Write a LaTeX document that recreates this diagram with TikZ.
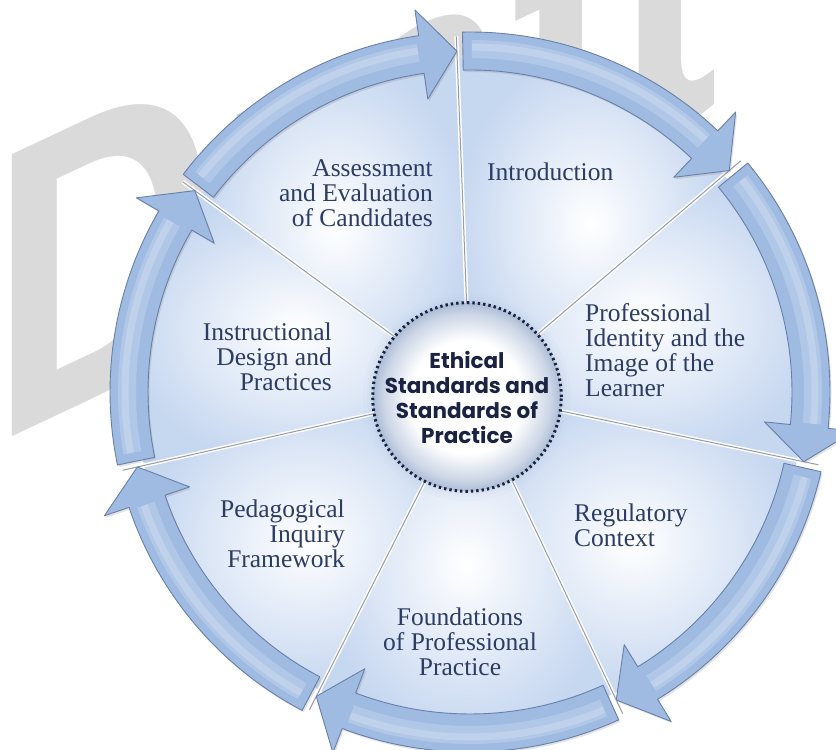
\documentclass[tikz,border=0pt]{standalone}
\usepackage{fontspec}
\setmainfont{Liberation Serif}
\newfontfamily\cfont{Poppins}
\newfontfamily\wmfont{Liberation Sans}
\usetikzlibrary{shadows}
\definecolor{arrowfill}{RGB}{160,187,226}
\definecolor{arrowedge}{RGB}{104,128,170}
\definecolor{secout}{RGB}{198,215,240}
\definecolor{labc}{RGB}{44,60,98}
\definecolor{cenc}{RGB}{26,36,66}
\definecolor{wmgray}{RGB}{218,218,218}
\definecolor{cedge}{RGB}{172,188,214}
\definecolor{divg}{RGB}{150,155,168}
\pgfdeclareradialshading{censhade}{\pgfpoint{0bp}{0bp}}{color(0bp)=(white); color(15bp)=(white); color(22bp)=(cedge!60!white); color(25bp)=(cedge); color(50bp)=(cedge)}
\begin{document}
\begin{tikzpicture}[x=1pt,y=1pt,
  lab/.style={font=\fontsize{25.5}{25}\selectfont, text=labc, inner sep=0pt},
  ringarrow/.style={fill=arrowfill, draw=arrowedge, line width=0.9pt, line join=round,
     drop shadow={opacity=0.22, shadow xshift=1.5pt, shadow yshift=-2pt}},
  sector/.style={inner color=white, outer color=secout},
  divline/.style={draw=white, line width=4pt},
  divgray/.style={draw=divg, line width=1pt},
  glintwide/.style={draw=white, opacity=0.18, line width=18pt},
  glintthin/.style={draw=white, opacity=0.2, line width=7pt}]
\useasboundingbox (0,0) rectangle (836,750);
\clip (0,0) rectangle (836,750);
\fill[white] (0,0) rectangle (836,750);

% watermark
\begin{scope}[cm={0.76,0.357,0,1,(-9,303)}]
  \node[anchor=base west, inner sep=0pt, text=wmgray, transform shape,
        font=\wmfont\bfseries\fontsize{410}{410}\selectfont] (wm) at (0,0) {Draft};
\end{scope}

\begin{scope}[shift={(470,358)}]
  % sectors
  \foreach \angA/\angB in {92.2/40.5, 40.5/-11.8, -11.8/-64.6, -64.6/-116.8, -116.8/-167.3, -167.3/-216.2, 143.8/92.2}{
    \shade[sector] (0,0) -- (\angA:334) arc[start angle=\angA, end angle=\angB, radius=334pt] -- cycle;
  }
  % dividers
  \foreach \angA in {92.2, 40.5, -11.8, -64.6, -116.8, -167.3, 143.8}{
    \draw[divline] (\angA:88) -- (\angA:356);
    \draw[divgray] (\angA:88) -- (\angA:356);
  }
  % ring arrows
  \foreach \angA/\tE in {92.2/40.5, 40.5/-11.8, -11.8/-64.6, -64.6/-116.8, -116.8/-167.3, -167.3/-216.2, 143.8/92.2}{
    \pgfmathsetmacro\tS{\angA-1.0}
    \pgfmathsetmacro\tH{\tE+6}
    \draw[ringarrow] (\tS:360) arc[start angle=\tS, end angle=\tH, radius=360pt]
      -- (\tH:386) -- (\tE:341) -- (\tH:296) -- (\tH:322)
      arc[start angle=\tH, end angle=\tS, radius=322pt] -- cycle;
    \pgfmathsetmacro\gS{\tS-1.5}
    \pgfmathsetmacro\gE{\tH+0.5}
    \draw[glintwide] (\gS:343) arc[start angle=\gS, end angle=\gE, radius=343pt];
    \draw[glintthin] (\gS:345) arc[start angle=\gS, end angle=\gE, radius=345pt];
  }
\end{scope}

% centre
\foreach \r/\op in {104/0.05,100/0.07,97/0.09,94/0.12}{
  \fill[cedge, opacity=\op] (467,353) circle[radius=\r pt];
}
\node[circle, minimum size=182pt, inner sep=0pt, shade, shading=censhade,
      draw=cenc, line width=3pt, dash pattern=on 2.4pt off 3pt,
      text=cenc, align=center, font=\cfont\bfseries\fontsize{21.5}{25}\selectfont]
  (ctr) at (467,353) {Ethical\\Standards and\\Standards of\\Practice};

% labels
\node[lab, anchor=east, align=right] (assess) at (433,556.5) {Assessment\\and Evaluation\\of Candidates};
\node[lab, anchor=west, align=left] (intro) at (487,578) {Introduction};
\node[lab, anchor=west, align=left] (prof) at (585,399.5) {Professional\\Identity and the\\Image of the\\Learner};
\node[lab, anchor=west, align=left] (reg) at (574,224.5) {Regulatory\\Context};
\node[lab, anchor=center, align=center] (found) at (460,108) {Foundations\\of Professional\\Practice};
\node[lab, anchor=east, align=right] (ped) at (345,216) {Pedagogical\\Inquiry\\Framework};
\node[lab, anchor=east, align=right] (instr) at (332,393) {Instructional\\Design and\\Practices};
\end{tikzpicture}
\end{document}
